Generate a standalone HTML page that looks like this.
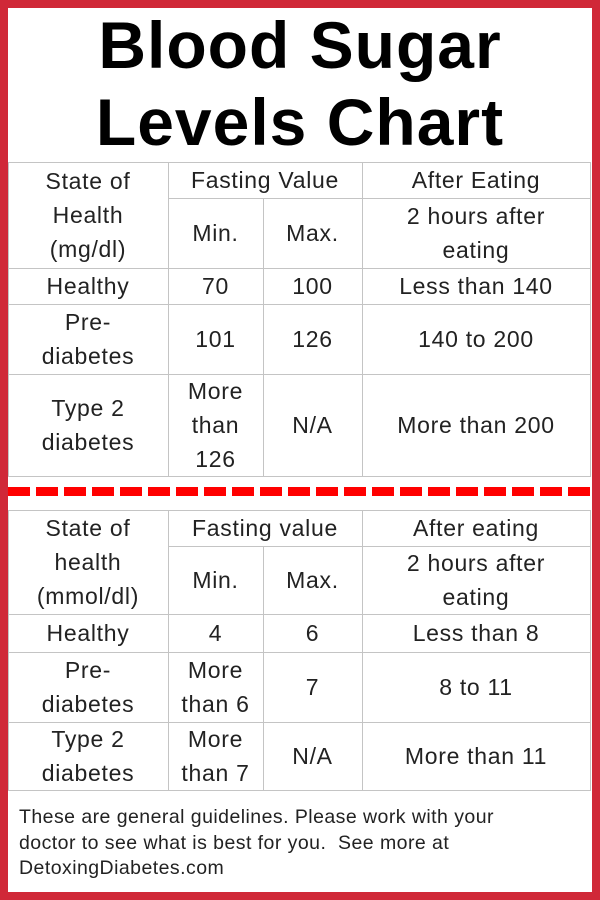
<!DOCTYPE html>
<html><head><meta charset="utf-8"><style>
html,body{margin:0;padding:0}
body{width:600px;height:900px;position:relative;background:#fff;font-family:"Liberation Sans",sans-serif;overflow:hidden}
.frame{position:absolute;left:0;top:0;width:584px;height:884px;border:8px solid #d02838}
.title{position:absolute;left:0;width:600px;text-align:center;font-weight:bold;font-size:66px;color:#000;line-height:76px;letter-spacing:1px}
.c{position:absolute;display:flex;align-items:center;justify-content:center;text-align:center;font-size:23px;letter-spacing:0.7px;line-height:34px;color:#222;box-sizing:border-box;border:1px solid #c4c4c4;margin:-0.5px 0 0 -0.5px}
.dash{position:absolute;left:8px;top:487px;width:584px;height:9px;background:repeating-linear-gradient(90deg,#f00 0 22px,transparent 22px 28px)}
.foot{position:absolute;left:19px;top:805px;width:575px;font-size:19.5px;letter-spacing:0.45px;line-height:25.5px;color:#222;white-space:nowrap}
</style></head><body>
<div class="frame"></div>
<div class="title" style="top:7px">Blood Sugar</div>
<div class="title" style="top:84px">Levels Chart</div>

<div>
<div class="c" style="left:8px;top:162px;width:161px;height:107px">State of<br>Health<br>(mg/dl)</div>
<div class="c" style="left:168px;top:162px;width:195px;height:37px">Fasting Value</div>
<div class="c" style="left:362px;top:162px;width:229px;height:37px">After Eating</div>
<div class="c" style="left:168px;top:198px;width:96px;height:71px">Min.</div>
<div class="c" style="left:263px;top:198px;width:100px;height:71px">Max.</div>
<div class="c" style="left:362px;top:198px;width:229px;height:71px">2 hours after<br>eating</div>
<div class="c" style="left:8px;top:268px;width:161px;height:37px">Healthy</div>
<div class="c" style="left:168px;top:268px;width:96px;height:37px">70</div>
<div class="c" style="left:263px;top:268px;width:100px;height:37px">100</div>
<div class="c" style="left:362px;top:268px;width:229px;height:37px">Less than 140</div>
<div class="c" style="left:8px;top:304px;width:161px;height:71px">Pre-<br>diabetes</div>
<div class="c" style="left:168px;top:304px;width:96px;height:71px">101</div>
<div class="c" style="left:263px;top:304px;width:100px;height:71px">126</div>
<div class="c" style="left:362px;top:304px;width:229px;height:71px">140 to 200</div>
<div class="c" style="left:8px;top:374px;width:161px;height:103px">Type 2<br>diabetes</div>
<div class="c" style="left:168px;top:374px;width:96px;height:103px">More<br>than<br>126</div>
<div class="c" style="left:263px;top:374px;width:100px;height:103px">N/A</div>
<div class="c" style="left:362px;top:374px;width:229px;height:103px">More than 200</div>
</div>

<div class="dash"></div>

<div>
<div class="c" style="left:8px;top:510px;width:161px;height:105px">State of<br>health<br>(mmol/dl)</div>
<div class="c" style="left:168px;top:510px;width:195px;height:37px">Fasting value</div>
<div class="c" style="left:362px;top:510px;width:229px;height:37px">After eating</div>
<div class="c" style="left:168px;top:546px;width:96px;height:69px">Min.</div>
<div class="c" style="left:263px;top:546px;width:100px;height:69px">Max.</div>
<div class="c" style="left:362px;top:546px;width:229px;height:69px">2 hours after<br>eating</div>
<div class="c" style="left:8px;top:614px;width:161px;height:39px">Healthy</div>
<div class="c" style="left:168px;top:614px;width:96px;height:39px">4</div>
<div class="c" style="left:263px;top:614px;width:100px;height:39px">6</div>
<div class="c" style="left:362px;top:614px;width:229px;height:39px">Less than 8</div>
<div class="c" style="left:8px;top:652px;width:161px;height:71px">Pre-<br>diabetes</div>
<div class="c" style="left:168px;top:652px;width:96px;height:71px">More<br>than 6</div>
<div class="c" style="left:263px;top:652px;width:100px;height:71px">7</div>
<div class="c" style="left:362px;top:652px;width:229px;height:71px">8 to 11</div>
<div class="c" style="left:8px;top:722px;width:161px;height:69px">Type 2<br>diabetes</div>
<div class="c" style="left:168px;top:722px;width:96px;height:69px">More<br>than 7</div>
<div class="c" style="left:263px;top:722px;width:100px;height:69px">N/A</div>
<div class="c" style="left:362px;top:722px;width:229px;height:69px">More than 11</div>
</div>

<div class="foot">These are general guidelines. Please work with your<br>doctor to see what is best for you.&nbsp; See more at<br>DetoxingDiabetes.com</div>
</body></html>
